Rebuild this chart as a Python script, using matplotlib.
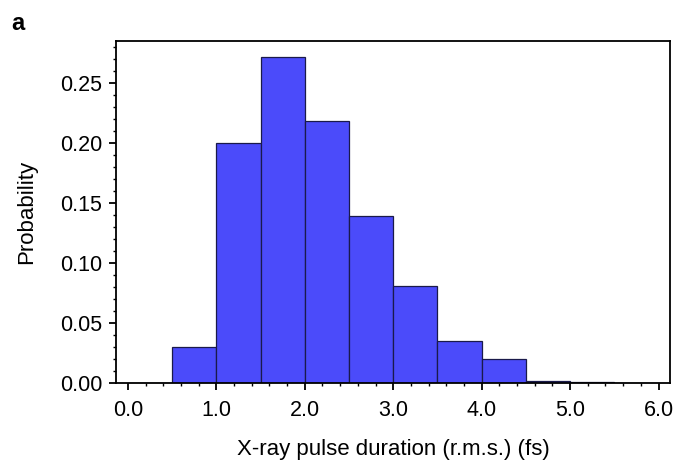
import matplotlib
matplotlib.use("Agg")
import matplotlib.pyplot as plt
from matplotlib.ticker import MultipleLocator
import numpy as np

plt.rcParams['font.family'] = ['Liberation Sans', 'DejaVu Sans']

# histogram bins (fs) and probabilities
bin_edges = [0.0, 0.5, 1.0, 1.5, 2.0, 2.5, 3.0, 3.5, 4.0, 4.5, 5.0, 5.5, 6.0]
probs = [0.0, 0.030, 0.200, 0.272, 0.218, 0.139, 0.081, 0.035, 0.020, 0.002, 0.0008, 0.0]
xtick_vals = [0.0, 1.0, 2.0, 3.0, 4.0, 5.0, 6.0]
ytick_vals = [0.00, 0.05, 0.10, 0.15, 0.20, 0.25]

fig = plt.figure(figsize=(6.77, 4.62), dpi=100)
ax = fig.add_axes([0.1713, 0.171, 0.8184, 0.7403])

left = np.array(bin_edges[:-1])
width = np.diff(bin_edges)
ax.bar(left, probs, width=width, align='edge', color='#4b4bfa',
       edgecolor='#1a1a4a', linewidth=0.9)

ax.set_xlim(-0.135, 6.13)
ax.set_ylim(0, 0.285)
ax.set_xticks(xtick_vals)
ax.set_xticklabels(['%.1f' % v for v in xtick_vals])
ax.set_yticks(ytick_vals)
ax.set_yticklabels(['%.2f' % v for v in ytick_vals])
ax.xaxis.set_minor_locator(MultipleLocator(0.2))
ax.yaxis.set_minor_locator(MultipleLocator(0.01))
ax.tick_params(which='major', direction='out', length=5, width=1.3, labelsize=15.5, pad=5)
ax.tick_params(which='minor', direction='out', length=2.5, width=1.0)
ax.tick_params(axis='x', which='major', pad=7)
for s in ax.spines.values():
    s.set_linewidth(1.3)

ax.set_xlabel('X-ray pulse duration (r.m.s.) (fs)', fontsize=16, labelpad=13)
ax.set_ylabel('Probability', fontsize=16, labelpad=16)

fig.text(0.017, 0.935, 'a', fontsize=17, fontweight='bold')

fig.savefig('out.png', dpi=100)
